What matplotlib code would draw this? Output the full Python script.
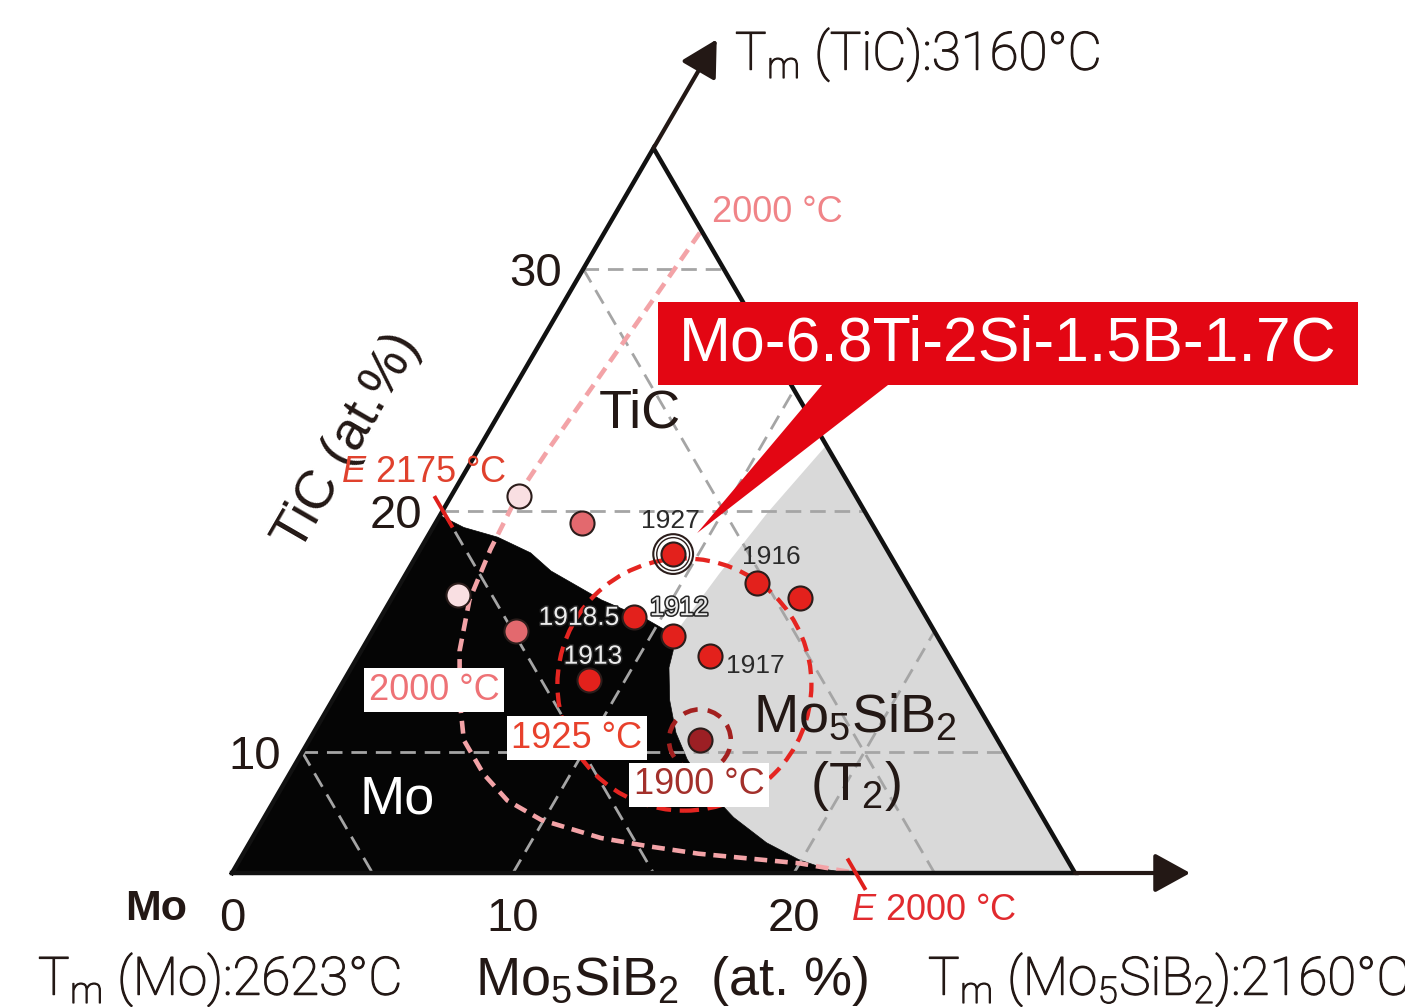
import numpy as np
import matplotlib
matplotlib.use("Agg")
import matplotlib.pyplot as plt
from matplotlib.patches import Polygon, Circle
from matplotlib.transforms import Affine2D
import matplotlib.patheffects as pe

plt.rcParams['font.family'] = ['Liberation Sans', 'DejaVu Sans']
plt.rcParams['mathtext.fontset'] = 'custom'
plt.rcParams['mathtext.rm'] = 'Roboto:light'
plt.rcParams['mathtext.sf'] = 'Liberation Sans'
plt.rcParams['mathtext.it'] = 'Liberation Sans:italic'
plt.rcParams['mathtext.bf'] = 'Liberation Sans:bold'

# Section of the Mo - Mo5SiB2 - TiC system.
# Compositions are (Mo5SiB2 at.%, TiC at.%); corners (0,5), (0,35), (30,5).
T_BASE = 5.0
T_APEX = 35.0
B_RIGHT = 30.0

tic_ticks = [10, 20, 30]
boride_ticks = [0, 10, 20]
mo_grid = [90, 80, 70]
boride_grid = [10, 20]

# Phase-field boundaries
mo_tic_b = [0.0, 1.1, 2.5, 4.0, 5.1, 7.5, 9.5, 10.8]
mo_tic_t = [19.8, 19.3, 18.9, 18.25, 17.5, 16.3, 15.5, 14.85]
mo_t2_b = [10.8, 11.1, 11.3, 12.0, 12.9, 13.85, 15.2, 16.7, 18.4, 19.9, 21.2, 22.0]
mo_t2_t = [14.85, 14.2, 13.5, 12.15, 10.8, 9.7, 8.45, 7.3, 6.25, 5.55, 5.12, 5.0]
tic_t2_b = [12.3, 11.6, 11.15, 10.8]
tic_t2_t = [22.7, 19.9, 17.4, 14.85]

# 2000 C liquidus isotherm
iso2000_b = [3.4, 3.1, 2.8, 2.5, 2.35, 2.5, 2.8, 3.5, 4.5, 5.5, 6.9, 8.3, 9.9,
             12.4, 14.3, 16.2, 18.1, 20.0, 22.2]
iso2000_t = [31.5, 28.5, 25.5, 22.6, 20.6, 18.4, 16.3, 14.2, 12.2, 10.5, 9.1, 8.0,
             7.2, 6.45, 6.1, 5.8, 5.6, 5.4, 5.0]
# 1925 C and 1900 C isotherm loops (centre b, centre t, radius in at.%)
iso1925 = (12.2, 12.8, 4.52)
iso1900 = (13.9, 10.5, 1.10)

# Eutectic points
eut_2175 = (0.0, 20.0)
eut_2000 = (22.2, 5.0)

# Alloy compositions
pale_b = [2.4, 2.3]
pale_t = [20.6, 16.5]
salmon_b = [5.2, 5.1]
salmon_t = [19.5, 15.0]
alloy_labels = ['1927', '1918.5', '1912', '1916', '', '1917', '1913']
alloy_b = [9.1, 9.0, 10.8, 12.7, 14.5, 12.5, 8.7]
alloy_t = [18.2, 15.6, 14.8, 17.0, 16.4, 14.0, 13.0]
dark_b = [13.9]
dark_t = [10.5]

W, H = 1405, 1007
fig = plt.figure(figsize=(W / 100, H / 100), dpi=100)
ax = fig.add_axes([0, 0, 1, 1])
ax.set_xlim(-232 / 28.1, (W - 232) / 28.1)
ax.set_ylim(-(H - 873) / 27.9, 873 / 27.9)
ax.axis('off')

SQ = np.sqrt(3) / 2


def cart(b, t):
    b = np.asarray(b, float)
    t = np.asarray(t, float)
    return b + (t - T_BASE) / 2, (t - T_BASE) * SQ


def pts(b, t):
    x, y = cart(b, t)
    return np.column_stack([np.atleast_1d(x), np.atleast_1d(y)])


pix = Affine2D().scale(1, -1).translate(0, H)
INK = '#231815'
LIGHT = dict(family=['Roboto', 'Liberation Sans'], fontweight='light',
             path_effects=[pe.withStroke(linewidth=0.9, foreground=INK)])

# ---- phase fields
t2_field = np.vstack([pts([B_RIGHT], [T_BASE]), pts(tic_t2_b, tic_t2_t),
                      pts(mo_t2_b[1:], mo_t2_t[1:])])
ax.add_patch(Polygon(t2_field, closed=True, fc='#d9d9d9', ec='none', zorder=1))
mo_field = np.vstack([pts([0], [T_BASE]), pts(mo_tic_b, mo_tic_t),
                      pts(mo_t2_b[1:], mo_t2_t[1:])])
ax.add_patch(Polygon(mo_field, closed=True, fc='#050505', ec='#050505', lw=0.5,
                     zorder=1.1))

# ---- composition grid
grid_kw = dict(color='#a5a5a5', lw=2.0, ls=(0, (5.6, 3.2)), zorder=2)
for t in tic_ticks:
    ax.plot(*cart([0, T_APEX - t], [t, t]), **grid_kw)
for mo in mo_grid:
    s = 100 - mo
    ax.plot(*cart([0, s - T_BASE], [s, T_BASE]), **grid_kw)
for b in boride_grid:
    ax.plot(*cart([b, b], [T_BASE, T_APEX - b]), **grid_kw)

# ---- isotherms
ax.plot(*cart(iso2000_b, iso2000_t), color='#f3a3a7', lw=3.3, ls=(0, (2.8, 1.7)),
        zorder=3)
cx, cy = cart(iso1925[0], iso1925[1])
ax.add_patch(Circle((cx, cy), iso1925[2], fill=False, ec='#e52521', lw=3.1,
                    ls=(0, (3.4, 2.0)), zorder=4))
cx, cy = cart(iso1900[0], iso1900[1])
ax.add_patch(Circle((cx, cy), iso1900[2], fill=False, ec='#a3201f', lw=3.3,
                    ls=(0, (3.2, 2.2)), zorder=4))

# eutectic ticks (along constant-Mo direction)
for (eb, et) in (eut_2175, eut_2000):
    ax.plot(*cart([eb - 0.6, eb + 0.7], [et + 0.6, et - 0.7]), color='#e0201c',
            lw=2.8, solid_capstyle='butt', zorder=6)

# ---- triangle and axis arrows
ax.plot(*cart([0, B_RIGHT, 0, 0], [T_BASE, T_BASE, T_APEX, T_BASE]), color='#111111',
        lw=3.2, solid_joinstyle='miter', zorder=5)
arrow_kw = dict(arrowstyle='-|>,head_length=1.0,head_width=0.55', lw=3.0, color=INK,
                shrinkA=0, shrinkB=0, mutation_scale=22)
ax.annotate('', xy=cart(0, T_APEX + 4.5), xytext=cart(0, T_APEX), arrowprops=arrow_kw,
            zorder=5)
ax.annotate('', xy=cart(B_RIGHT + 4.1, T_BASE), xytext=cart(B_RIGHT, T_BASE),
            arrowprops=arrow_kw, zorder=5)

# ---- alloys
edge = '#2b1d1b'
ax.scatter(*cart(pale_b, pale_t), s=300, c='#f9dfe2', edgecolors=edge, linewidths=1.5,
           zorder=7)
ax.scatter(*cart(salmon_b, salmon_t), s=300, c='#e3696e', edgecolors=edge,
           linewidths=1.5, zorder=7)
ax.scatter(*cart(alloy_b, alloy_t), s=300, c='#e3211c', edgecolors=edge, linewidths=1.5,
           zorder=7)
ax.scatter(*cart(dark_b, dark_t), s=300, c='#9c1f24', edgecolors=edge, linewidths=1.5,
           zorder=7)
hx, hy = cart(alloy_b[0], alloy_t[0])
ax.scatter([hx], [hy], s=820, facecolors='none', edgecolors=edge, linewidths=1.5,
           zorder=7)
ax.scatter([hx], [hy], s=560, facecolors='none', edgecolors=edge, linewidths=1.0,
           zorder=7)

label_offsets = {'1927': (-3, -33), '1918.5': (-55, 1), '1912': (6, -28),
                 '1916': (14, -26), '1917': (46, 10), '1913': (4, -23)}
light_labels = {'1918.5', '1913', '1912'}
for lab, b, t in zip(alloy_labels, alloy_b, alloy_t):
    if not lab:
        continue
    dx, dy = label_offsets[lab]
    if lab in light_labels:
        kw = dict(color='#ececec',
                  path_effects=[pe.withStroke(linewidth=2.2, foreground='#222222')])
    else:
        kw = dict(color='#2a2a2a')
    ax.annotate(lab, xy=cart(b, t), xytext=(dx, -dy), textcoords='offset pixels',
                ha='center', va='center', fontsize=19, zorder=8, **kw)

# ---- tick labels
for v in boride_ticks:
    ax.annotate(str(v), xy=cart(v, T_BASE), xytext=(0, -24), textcoords='offset pixels',
                ha='center', va='top', fontsize=34, color=INK)
for v in tic_ticks:
    ax.annotate(str(v), xy=cart(0, v), xytext=(-21, 0), textcoords='offset pixels',
                ha='right', va='center_baseline', fontsize=34, color=INK)

# ---- axis titles and melting points
ax.text(348, 442, 'TiC (at.%)', transform=pix, rotation=60, rotation_mode='anchor',
        ha='center', va='center', fontsize=39, color=INK)
ax.text(735, 70, r'T$_\mathrm{m}$ (TiC):3160°C', transform=pix, ha='left',
        va='baseline', fontsize=38, color=INK, **LIGHT)
ax.text(38, 995, r'T$_\mathrm{m}$ (Mo):2623°C', transform=pix, ha='left',
        va='baseline', fontsize=38, color=INK, **LIGHT)
ax.text(475, 995, r'Mo$_\mathsf{5}$SiB$_\mathsf{2}$  (at. %)', transform=pix, ha='left',
        va='baseline', fontsize=39, color=INK)
ax.text(928, 995, r'T$_\mathrm{m}$ (Mo$_\mathrm{5}$SiB$_\mathrm{2}$):2160°C', transform=pix,
        ha='left', va='baseline', fontsize=38, color=INK, **LIGHT)
ax.text(125, 920, 'Mo', transform=pix, ha='left', va='baseline', fontsize=31,
        fontweight='bold', color=INK)

# ---- phase field names
ax.text(640, 413, 'TiC', transform=pix, ha='center', va='center', fontsize=39,
        color=INK, zorder=6)
ax.text(397, 800, 'Mo', transform=pix, ha='center', va='center', fontsize=39,
        color='white', zorder=6)
ax.text(855, 732, r'Mo$_\mathsf{5}$SiB$_\mathsf{2}$', transform=pix, ha='center',
        va='baseline', fontsize=39, color=INK, zorder=6)
ax.text(855, 800, r'(T$_\mathsf{2}$)', transform=pix, ha='center', va='baseline',
        fontsize=39, color=INK, zorder=6)

# ---- isotherm labels
box = dict(boxstyle='square,pad=0.12', fc='white', ec='none')
ax.text(777, 213, '2000 °C', transform=pix, ha='center', va='center', fontsize=26,
        color='#f08488', zorder=9)
ax.text(434, 690, '2000 °C', transform=pix, ha='center', va='center', fontsize=26,
        color='#ee7276', bbox=box, zorder=9)
ax.text(577, 738, '1925 °C', transform=pix, ha='center', va='center', fontsize=26,
        color='#e8412c', bbox=box, zorder=9)
ax.text(699, 785, '1900 °C', transform=pix, ha='center', va='center', fontsize=26,
        color='#a3302b', bbox=box, zorder=9)
ax.text(424, 473, r'$\mathit{E}$ 2175 °C', transform=pix, ha='center', va='center',
        fontsize=26, color='#e0412d', zorder=9)
ax.text(934, 910, r'$\mathit{E}$ 2000 °C', transform=pix, ha='center', va='center',
        fontsize=26, color='#e12a2e', zorder=9)

# ---- callout for the highlighted alloy
hp = ax.transData.transform((hx, hy))
tip = (hp[0] + 24, H - hp[1] - 21)
callout = [(658, 302), (1358, 302), (1358, 385), (888, 385), tip, (822, 385), (658, 385)]
ax.add_patch(Polygon(callout, closed=True, transform=pix, fc='#e30613', ec='none',
                     zorder=10))
ax.text(1008, 344, 'Mo-6.8Ti-2Si-1.5B-1.7C', transform=pix, ha='center', va='center',
        fontsize=45, color='white', zorder=11)

fig.savefig('out.png', dpi=100)
